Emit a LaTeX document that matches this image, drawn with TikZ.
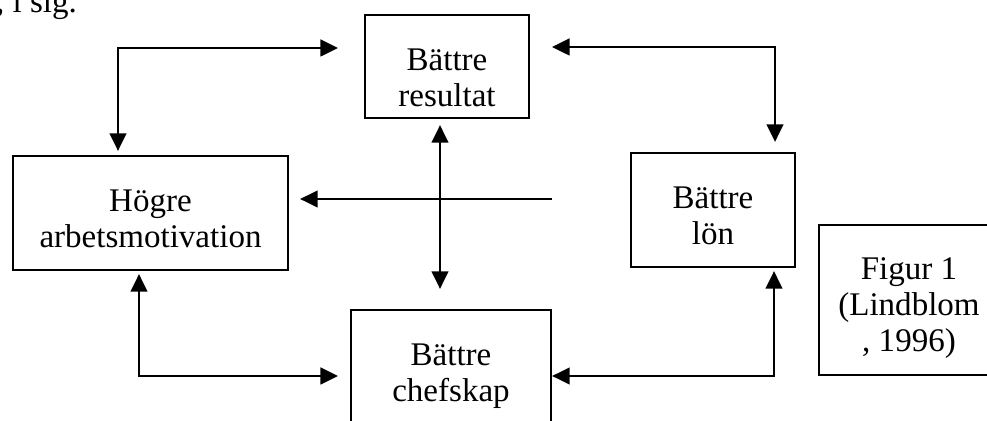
\documentclass[tikz,border=0pt]{standalone}
\usepackage{fontspec}
\setmainfont{Liberation Serif}
\usetikzlibrary{positioning,arrows.meta}

\begin{document}
\begin{tikzpicture}[x=0.02cm,y=-0.02cm,line width=1.3pt,
  >={Triangle[length=10pt,width=9.5pt]},
  box/.style={draw,rectangle,inner sep=0pt},
  txt/.style={align=center,inner sep=0pt,font=\fontsize{18.8}{20.4}\selectfont}]
  \useasboundingbox (0,0) rectangle (987,421);
  \clip (0,0) rectangle (987,421);

  % end of the text line above the figure
  \node[txt,anchor=base west] (prev) at (-5,13) {, i sig.};

  % boxes
  \node[box,minimum width=3.28cm,minimum height=2.06cm] (res) at (447,66.5) {};
  \node[box,minimum width=5.5cm,minimum height=2.28cm] (hog) at (150.5,213) {};
  \node[box,minimum width=3.28cm,minimum height=2.28cm] (lon) at (713,210) {};
  \node[box,minimum width=4cm,minimum height=2.28cm] (chef) at (451,367) {};
  \node[box,minimum width=3.6cm,minimum height=3cm] (fig) at (909,300) {};

  \node[txt,below=0.68cm of res.north] (restxt) {Bättre\\resultat};
  \node[txt,below=0.68cm of hog.north] (hogtxt) {Högre\\arbetsmotivation};
  \node[txt,below=0.68cm of lon.north] (lontxt) {Bättre\\lön};
  \node[txt,below=0.68cm of chef.north] (cheftxt) {Bättre\\chefskap};
  \node[txt,below=0.66cm of fig.north] (figtxt) {Figur 1\\(Lindblom\\, 1996)};

  % corners and free ends
  \coordinate (tlc) at (118,48);
  \coordinate (tle) at (338,48);
  \coordinate (trs) at (552,47);
  \coordinate (trc) at (775,47);
  \coordinate (blc) at (139,376);
  \coordinate (ble) at (338,376);
  \coordinate (brc) at (774,376);
  \coordinate (cx) at (440,199);
  \coordinate (hs) at (552,199);

  \draw[<->,shorten <=0.08cm] (tlc |- hog.north) -- (tlc) -- (tle);
  \draw[<->,shorten >=0.2cm] (trs) -- (trc) -- (trc |- lon.north);
  \draw[<->,shorten <=0.06cm] (blc |- hog.south) -- (blc) -- (ble);
  \draw[<->,shorten <=0.06cm] (brc |- lon.south) -- (brc) -- (chef.east |- brc);
  \draw[<->,shorten <=0.12cm,shorten >=0.4cm] (cx |- res.south) -- (cx |- chef.north);
  \draw[->,shorten >=0.22cm] (hs) -- (hog.east |- hs);
\end{tikzpicture}
\end{document}
